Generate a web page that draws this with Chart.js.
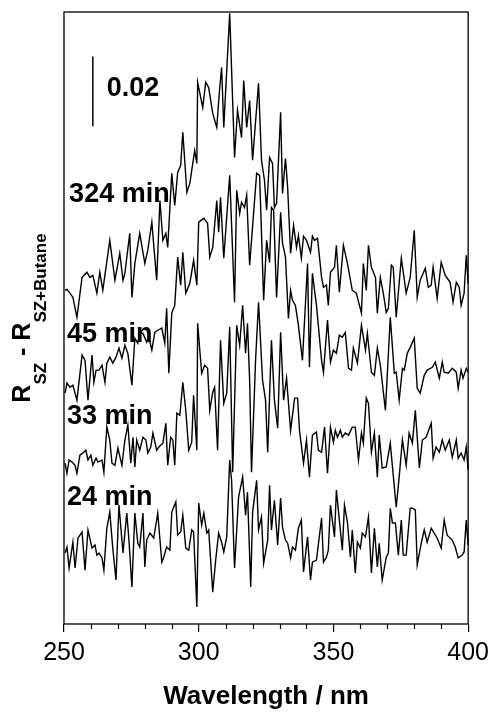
<!DOCTYPE html>
<html><head><meta charset="utf-8">
<script src="https://cdn.jsdelivr.net/npm/chart.js@4.4.1/dist/chart.umd.min.js"></script>
<style>html,body{margin:0;padding:0;background:#fff}#wrap{width:495px;height:712px}</style>
</head><body><div id="wrap"><canvas id="c" width="495" height="712"></canvas></div>
<script>
// Wavelength axis (nm)
const xMin = 250, xMax = 400, xMajor = 50, xMinor = 10;
const yMin = 0, yMax = 175; // offset reflectance difference, in units of 1e-3

// 324 min
const wl324 = [250.4,251.1,252.2,253.3,254.8,256.7,258.5,259.6,260.7,262.2,263.3,264.4,267.0,268.9,270.7,271.9,272.6,274.4,275.2,276.3,278.1,280.0,281.1,282.6,284.4,285.6,286.7,287.8,288.5,290.0,291.1,292.2,293.3,294.1,295.6,296.7,297.8,298.5,299.3,299.6,301.5,302.6,303.7,305.2,306.7,307.8,308.5,309.3,311.5,313.3,314.4,315.9,316.7,317.8,318.9,320.0,322.2,323.3,324.4,325.2,326.3,327.4,328.1,328.9,330.4,331.1,332.2,333.0,334.1,335.2,336.3,337.0,338.1,338.9,340.0,341.5,342.2,343.0,344.1,345.6,346.3,347.4,348.1,348.9,350.4,351.1,352.2,353.7,355.2,357.0,358.5,360.4,361.1,362.2,363.0,364.1,365.6,366.3,367.4,368.5,369.6,370.4,371.5,372.2,373.3,375.2,377.0,378.5,380.0,381.1,382.2,384.1,385.2,386.3,387.0,388.5,390.0,391.5,393.3,394.4,395.6,396.7,397.4,398.5,399.3,400.0];
const r324 = [95.4,95.7,94.6,93.4,87.7,99.1,100.6,99.1,99.7,94.6,100.6,95.4,109.7,98.3,106.0,98.3,100.3,111.7,93.4,103.1,111.7,103.1,106.9,114.9,98.3,121.1,109.7,111.7,107.7,128.9,119.7,129.1,131.1,140.6,123.4,126.0,131.7,135.4,131.7,154.9,147.7,154.9,153.4,146.0,142.0,153.4,159.1,142.0,174.6,133.4,146.9,139.1,155.4,142.0,149.7,132.6,154.6,132.6,126.9,118.3,133.4,131.7,119.1,120.3,146.3,123.1,133.1,124.9,106.0,114.0,107.7,111.1,104.6,110.9,109.7,106.3,110.9,109.7,110.3,99.1,96.3,96.9,91.1,100.6,102.0,108.3,94.9,108.3,103.1,95.4,94.6,88.9,103.1,95.4,108.3,102.0,99.1,88.9,99.1,94.6,89.1,90.3,102.6,102.0,87.7,104.6,94.6,99.1,112.6,93.4,98.3,101.7,96.3,96.9,102.0,93.1,103.4,99.7,97.7,92.0,97.7,96.3,91.1,94.6,105.4,97.4];

// 45 min
const wl45 = [250.4,251.1,252.2,253.3,254.8,256.7,257.8,258.9,260.4,261.1,261.9,263.0,264.1,265.2,265.9,267.0,268.1,269.3,270.4,271.5,272.6,273.7,275.2,276.3,277.4,278.1,279.3,280.7,281.5,282.6,283.7,284.8,286.3,287.4,288.1,288.9,290.0,291.1,292.2,293.3,294.1,295.2,296.7,298.1,299.3,300.0,301.9,303.3,304.1,305.2,306.7,307.4,308.1,309.3,311.5,313.3,314.1,315.2,315.9,317.0,317.8,318.9,321.5,322.6,324.1,325.2,326.3,327.0,327.8,328.9,330.4,331.1,332.2,333.3,334.1,334.8,335.9,337.0,338.5,340.4,341.1,342.2,343.7,345.6,346.3,347.8,348.9,350.0,351.1,352.2,353.3,354.4,355.6,356.7,357.4,358.9,360.4,361.9,362.6,364.1,365.2,366.3,367.4,369.3,371.1,372.6,373.3,374.4,375.6,376.3,377.4,378.5,380.0,381.1,382.2,383.7,384.8,386.7,387.8,389.3,390.4,391.1,392.6,394.1,395.6,396.3,397.4,398.1,399.3,400.0];
const r45 = [66.0,68.9,67.7,68.3,64.0,76.9,75.4,64.0,76.9,69.1,72.6,72.6,74.0,69.1,74.6,76.3,74.6,76.3,78.9,76.0,79.7,77.4,68.3,81.7,80.3,83.4,83.1,80.6,82.0,78.3,83.4,84.0,84.6,80.3,90.3,71.7,88.9,91.1,104.9,96.9,106.3,94.6,97.4,104.0,96.9,114.9,116.0,114.6,104.9,107.7,121.1,112.0,122.0,104.6,128.3,92.0,124.0,117.4,120.6,119.1,122.6,102.6,128.9,128.3,92.6,109.7,103.4,119.1,118.3,93.4,117.7,108.9,104.9,87.4,95.4,92.6,91.1,85.4,75.4,103.1,73.4,100.3,91.1,75.4,72.0,86.9,74.9,78.3,77.4,82.6,82.0,83.4,73.1,72.6,78.9,74.6,85.4,78.3,83.1,72.0,71.1,78.9,74.0,61.1,87.7,71.7,72.0,64.0,73.1,72.6,77.4,79.1,81.7,67.4,66.0,71.1,72.6,73.4,74.9,70.3,74.9,72.0,71.7,73.1,72.0,67.4,72.6,70.3,73.1,72.0];

// 33 min
const wl33 = [250.4,251.1,251.9,253.0,254.1,254.8,255.9,257.0,258.1,258.9,260.0,260.7,261.9,262.6,264.1,264.8,265.9,267.0,267.8,268.9,270.0,271.5,272.6,273.7,274.8,275.6,276.3,277.0,278.1,279.3,280.4,281.1,282.2,283.0,284.4,285.2,286.7,287.8,288.5,289.6,290.4,291.1,291.9,293.0,294.1,295.2,296.3,297.4,298.1,299.3,299.6,301.1,302.2,303.3,304.1,305.2,305.9,307.0,308.1,309.3,310.4,311.5,312.6,314.1,315.2,316.3,317.4,318.1,318.9,319.6,321.1,322.2,323.7,324.8,325.6,327.0,328.1,329.3,330.4,331.5,332.6,334.1,335.6,336.7,337.4,338.9,340.0,341.1,342.2,343.7,344.4,345.6,346.7,347.8,348.9,350.0,350.7,351.5,352.6,353.3,354.4,355.6,357.0,358.1,359.3,360.4,361.1,362.2,363.0,364.1,365.2,366.3,367.0,368.1,369.6,371.1,373.3,374.4,375.6,377.0,378.1,379.3,380.4,381.9,383.0,384.4,386.3,387.0,388.1,389.3,390.4,391.5,393.0,394.1,395.6,396.3,397.4,398.5,399.3,400.0];
const r33 = [46.0,43.1,46.9,46.3,45.4,43.1,48.3,48.9,49.7,46.9,48.3,45.4,47.4,46.3,46.9,43.4,56.3,52.6,46.0,45.4,50.3,45.4,52.6,56.9,46.0,53.4,44.9,52.6,49.7,53.4,52.6,48.9,50.6,54.6,49.7,50.6,51.7,57.4,45.4,53.4,52.6,45.4,60.3,59.7,69.1,61.1,49.7,52.0,65.4,49.7,86.0,71.7,74.0,73.1,61.1,66.3,67.7,49.7,81.1,63.1,66.0,84.9,43.4,85.4,79.7,91.1,77.4,86.0,69.7,43.4,75.4,92.0,69.7,64.0,49.1,81.1,64.0,56.0,83.4,64.0,70.3,55.4,64.6,64.6,55.4,46.0,52.6,42.0,54.0,54.9,49.7,49.1,56.3,43.1,56.3,52.0,55.4,53.4,55.4,53.4,54.6,54.0,56.3,56.3,46.9,54.6,51.7,64.6,63.1,49.1,54.6,42.0,54.0,44.6,44.9,51.7,33.4,42.0,52.6,45.4,54.6,51.7,61.1,44.6,52.6,53.4,57.4,47.4,50.6,49.1,52.6,49.7,52.6,47.7,52.6,47.4,48.9,46.9,50.6,44.0];

// 24 min
const wl24 = [250.4,251.1,251.9,253.3,254.1,255.2,256.7,257.8,258.9,260.4,261.5,262.2,263.0,264.1,264.8,265.9,267.0,268.1,269.3,270.4,271.9,273.3,274.1,275.2,276.3,277.4,278.1,279.3,280.0,280.7,281.9,283.3,284.8,286.3,287.0,288.1,289.3,290.0,291.5,292.2,293.3,294.1,295.2,296.3,297.4,298.1,299.3,300.0,301.1,301.9,303.0,303.7,305.2,306.3,307.4,308.5,309.3,310.4,311.5,312.2,313.3,314.8,316.3,317.4,318.1,319.3,320.0,321.5,322.2,323.3,324.1,325.6,326.3,327.0,328.1,329.3,330.4,331.1,332.2,333.0,334.1,334.8,335.9,337.0,338.1,338.9,340.4,341.5,342.2,343.7,345.6,346.3,347.4,348.1,348.9,350.4,351.1,352.2,353.3,354.1,355.2,356.3,357.0,358.1,358.9,360.0,360.7,361.9,363.0,364.1,365.2,366.3,367.0,368.1,369.6,370.4,371.1,371.9,373.0,374.1,375.2,375.9,377.0,378.5,379.3,380.4,381.1,382.6,383.7,384.8,386.3,387.4,388.5,390.0,391.1,392.2,394.1,395.2,396.3,397.8,398.5,399.3,400.0];
const r24 = [20.3,22.0,16.0,23.4,16.0,24.6,26.3,15.4,26.9,21.7,22.6,19.7,20.3,18.9,15.4,27.4,32.0,21.7,12.6,34.0,20.3,31.7,24.0,10.6,31.7,23.1,22.0,31.7,16.3,24.0,26.0,24.6,31.7,17.7,19.1,22.0,21.1,32.0,34.9,25.4,26.3,31.1,21.7,21.1,26.9,26.3,4.9,34.6,28.3,31.7,26.0,26.9,9.1,18.3,26.0,23.4,20.6,24.9,46.9,41.1,16.0,36.3,42.0,31.1,37.7,10.6,32.0,41.1,26.9,30.6,17.4,24.0,39.7,26.9,35.4,22.6,36.0,27.7,24.0,23.1,18.9,22.0,21.1,27.4,29.7,14.9,24.9,12.6,17.7,18.3,30.3,17.7,19.1,21.1,34.0,24.9,38.3,29.7,21.1,34.0,29.1,19.1,26.9,14.6,23.4,21.7,26.0,24.9,30.6,14.6,27.4,16.3,23.1,12.6,19.1,20.3,33.1,28.9,28.9,19.7,29.7,19.7,19.7,33.1,33.1,32.6,16.9,23.1,26.9,23.4,27.4,26.0,24.6,21.7,29.7,25.4,24.0,22.0,18.9,19.7,20.6,29.7,22.6];

// Scale bar (0.02 = 20 units)
const barWl = [260.7, 260.7];
const barVal = [142.3, 162.3];
const barText = '0.02';

const seriesNames = ['324 min', '45 min', '33 min', '24 min'];
// label anchors (wavelength, value of baseline)
const labelWl = [251.9, 251.1, 251.1, 251.1];
const labelVal = [120.6, 80.6, 57.1, 34.0];
const barTextAt = [265.9, 151.1];

const xTitle = 'Wavelength / nm';
const FONT = '"Liberation Sans", Arial, Helvetica, sans-serif';

function pts(xs, ys) { const n = Math.min(xs.length, ys.length); const o = []; for (let i = 0; i < n; i++) o.push({x: xs[i], y: ys[i]}); return o; }

const lineDs = (xs, ys, w) => ({ data: pts(xs, ys), borderColor: '#000', borderWidth: w, pointRadius: 0, tension: 0, fill: false, clip: false });

const decor = {
  id: 'decor',
  afterDatasetsDraw(chart) {
    const {ctx, chartArea: a, scales: {x, y}} = chart;
    ctx.save();
    ctx.strokeStyle = '#000';
    ctx.lineWidth = 1.3;
    ctx.strokeRect(a.left, a.top, a.right - a.left, a.bottom - a.top);
    ctx.lineWidth = 1.2;
    for (let v = xMin; v <= xMax; v += xMinor) {
      if (v % xMajor === 0) continue;
      const px = Math.round(x.getPixelForValue(v)) + 0.5;
      ctx.beginPath(); ctx.moveTo(px, a.bottom); ctx.lineTo(px, a.bottom + 5); ctx.stroke();
    }
    ctx.fillStyle = '#000';
    ctx.textAlign = 'left';
    ctx.textBaseline = 'alphabetic';
    ctx.font = 'bold 27px ' + FONT;
    seriesNames.forEach((t, i) => ctx.fillText(t, x.getPixelForValue(labelWl[i]), y.getPixelForValue(labelVal[i])));
    ctx.fillText(barText, x.getPixelForValue(barTextAt[0]), y.getPixelForValue(barTextAt[1]));
    // y title with subscripts
    const parts = [['R', 0], ['SZ', 1], [' - ', 0], ['R', 0], ['SZ+Butane', 1]];
    const big = 'bold 25px ' + FONT, small = 'bold 17px ' + FONT;
    let total = 0;
    parts.forEach(p => { ctx.font = p[1] ? small : big; total += ctx.measureText(p[0]).width; });
    const cy = (a.top + a.bottom) / 2;
    ctx.rotate(-Math.PI / 2);
    let u = -(cy + total / 2);
    const baseMain = 30, baseSub = 46;
    parts.forEach(p => {
      ctx.font = p[1] ? small : big;
      ctx.fillText(p[0], u, p[1] ? baseSub : baseMain);
      u += ctx.measureText(p[0]).width;
    });
    ctx.restore();
  }
};

new Chart(document.getElementById('c'), {
  type: 'line',
  data: {
    datasets: [
      lineDs(wl324, r324, 1.4),
      lineDs(wl45, r45, 1.4),
      lineDs(wl33, r33, 1.4),
      lineDs(wl24, r24, 1.4),
      lineDs(barWl, barVal, 1.5)
    ]
  },
  options: {
    responsive: false,
    animation: false,
    devicePixelRatio: 1,
    layout: { padding: { left: 0, right: 26, top: 12, bottom: 0 } },
    plugins: { legend: { display: false }, tooltip: { enabled: false } },
    scales: {
      x: {
        type: 'linear', min: xMin, max: xMax,
        border: { display: false },
        grid: { display: true, drawOnChartArea: false, drawTicks: true, tickLength: 8, lineWidth: 1.2,
          color: c => (c.tick && c.tick.value % xMajor === 0) ? '#000' : 'rgba(0,0,0,0)' },
        ticks: { stepSize: xMinor, autoSkip: false, maxRotation: 0, padding: 6, color: '#000',
          font: { family: FONT, size: 25 },
          callback: v => (v % xMajor === 0 ? String(v) : '') },
        title: { display: true, text: xTitle, color: '#000', font: { family: FONT, size: 26, weight: 'bold' }, padding: { top: 0, bottom: 0 } },
        afterFit: s => { s.height = 88; }
      },
      y: {
        type: 'linear', min: yMin, max: yMax,
        border: { display: false },
        grid: { display: false },
        ticks: { display: false },
        afterFit: s => { s.width = 64; }
      }
    }
  },
  plugins: [decor]
});
</script>
</body></html>
